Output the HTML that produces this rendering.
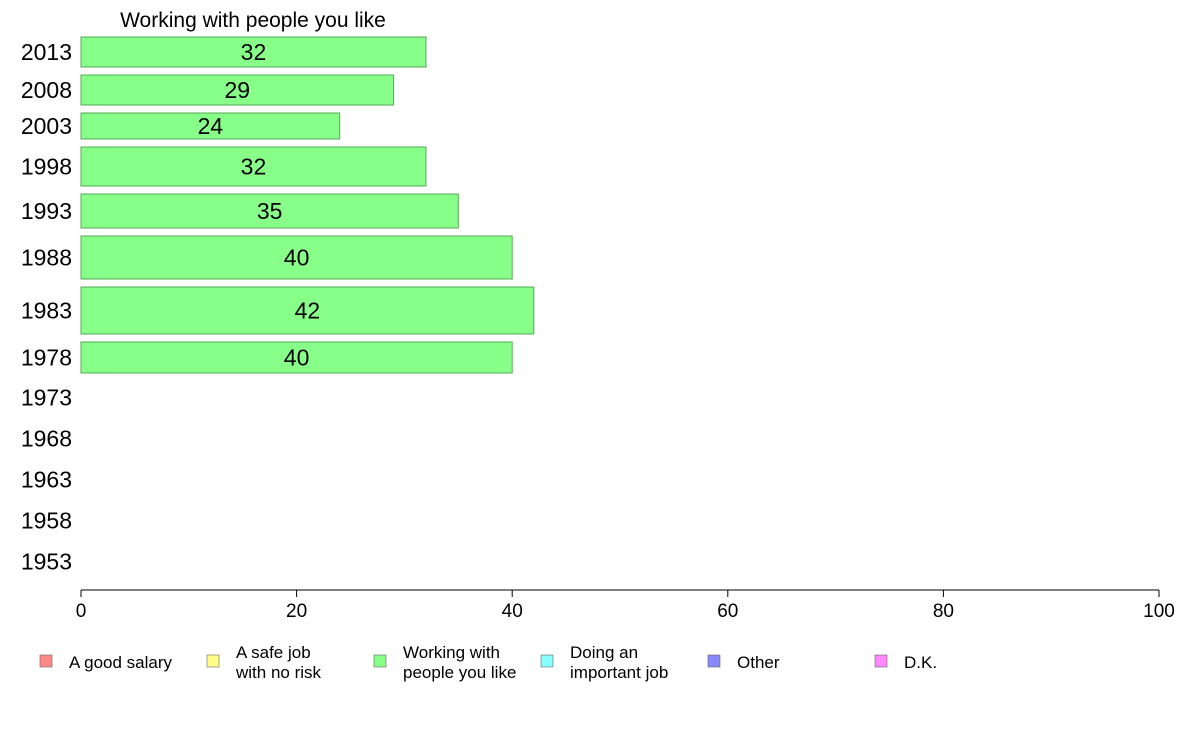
<!DOCTYPE html>
<html><head><meta charset="utf-8"><style>
body{margin:0;background:#fff;}
svg{display:block;font-family:"Liberation Sans",Arial,sans-serif;}
</style></head><body>
<svg id="chart" width="1188" height="736" viewBox="0 0 1188 736">
<text x="253" y="27" font-size="21" text-anchor="middle">Working with people you like</text>
<g id="bars"></g>
<g id="ylabels"></g>
<g id="xaxis"></g>
<g id="legend"></g>
</svg>
<script>
const years = ["2013","2008","2003","1998","1993","1988","1983","1978","1973","1968","1963","1958","1953"];
const values = [32,29,24,32,35,40,42,40,null,null,null,null,null];
const bandWeights = [38,38,34,47,42,51,55,39,41,41,41,41,41];
const xTicks = [0,20,40,60,80,100];
const legendLabels = [["A good salary"],["A safe job","with no risk"],["Working with","people you like"],["Doing an","important job"],["Other"],["D.K."]];
const legendColors = ["#ff8888","#ffff88","#88ff88","#88ffff","#8888ff","#ff88ff"];

const NS="http://www.w3.org/2000/svg";
const x0=81,x1=1159,yStart=33,axisY=590;
const xs=v=>x0+(x1-x0)*v/100;
function mk(tag,attrs,parent){const e=document.createElementNS(NS,tag);for(const k in attrs)e.setAttribute(k,attrs[k]);parent.appendChild(e);return e;}
const gb=document.getElementById('bars'),gy=document.getElementById('ylabels'),gx=document.getElementById('xaxis'),gl=document.getElementById('legend');
let y=yStart;
years.forEach((yr,i)=>{
  const h=bandWeights[i];const c=y+h/2;
  const t=mk('text',{x:72,y:c+8,'font-size':23,'text-anchor':'end'},gy);t.textContent=yr;
  
  
  if(values[i]!=null){
    const r=mk('rect',{x:x0,y:y+4,width:xs(values[i])-x0,height:h-8,fill:'#88ff88',stroke:'#55aa55','stroke-width':1},gb);
    
    
    const vt=mk('text',{x:(x0+xs(values[i]))/2,y:c+8,'font-size':23,'text-anchor':'middle'},gb);vt.textContent=values[i];
    
    
  }
  y+=h;
});
const al=mk('line',{x1:x0,x2:x1,y1:axisY,y2:axisY,stroke:'#000','stroke-width':1},gx);


xTicks.forEach(v=>{
  const tk=mk('line',{x1:xs(v),x2:xs(v),y1:axisY,y2:axisY+7,stroke:'#000'},gx);
  
  
  const t=mk('text',{x:xs(v),y:axisY+27,'font-size':19,'text-anchor':'middle'},gx);t.textContent=v;
  
  
});
legendLabels.forEach((lines,i)=>{
  const lx=40+i*167;
  const g=mk('g',{},gl);
  
  
  mk('rect',{x:lx,y:655,width:12,height:12,fill:legendColors[i],stroke:'#666','stroke-width':0.6},g);
  const n=lines.length;
  lines.forEach((ln,j)=>{
    const t=mk('text',{x:lx+29,y:668+(j-(n-1)/2)*20,'font-size':17},g);t.textContent=ln;
  });
});
</script>
</body></html>
